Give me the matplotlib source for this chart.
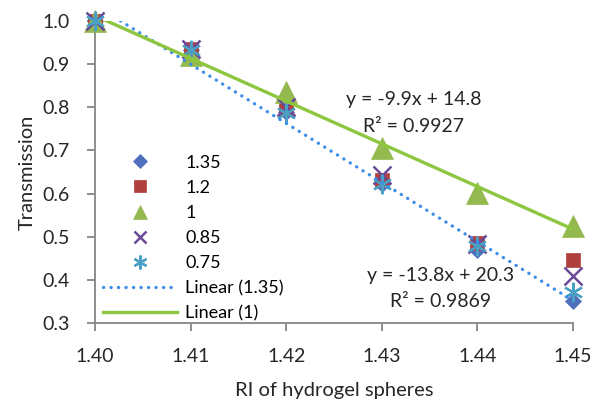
import numpy as np
import matplotlib
matplotlib.use('Agg')
import matplotlib.pyplot as plt
from matplotlib.lines import Line2D

plt.rcParams['font.family'] = ['Lato', 'DejaVu Sans']

# values
ri = [1.40, 1.41, 1.42, 1.43, 1.44, 1.45]
t_135 = [1.0, 0.932, 0.790, 0.622, 0.470, 0.352]
t_12 = [1.0, 0.935, 0.795, 0.632, 0.486, 0.446]
t_1 = [1.0, 0.922, 0.835, 0.705, 0.602, 0.525]
t_085 = [1.0, 0.935, 0.800, 0.643, 0.482, 0.410]
t_075 = [1.0, 0.933, 0.787, 0.622, 0.478, 0.372]

x_ticks = [1.40, 1.41, 1.42, 1.43, 1.44, 1.45]
y_ticks = [0.3, 0.4, 0.5, 0.6, 0.7, 0.8, 0.9, 1.0]

eq_1 = ['y = -9.9x + 14.8', 'R² = 0.9927']
eq_135 = ['y = -13.8x + 20.3', 'R² = 0.9869']

series = [
    ('1.35', t_135, dict(marker='D', color='#4F6FBE', ms=8, lg_ms=7.5)),
    ('1.2', t_12, dict(marker='s', color='#B0403D', ms=10, lg_ms=9)),
    ('1', t_1, dict(marker='^', color='#94B94F', ms=16, lg_ms=10)),
    ('0.85', t_085, dict(marker='x', color='#6A4B9A', ms=13, lg_ms=9, mew=1.8)),
    ('0.75', t_075, dict(marker=(6, 2, 0), color='#4A9FC4', ms=14, lg_ms=10, mew=1.6)),
]
text_col = '#262626'

fig = plt.figure(figsize=(6.02, 4.04), dpi=100)
ax = fig.add_axes([95 / 602, 1 - 323 / 404, 478 / 602, 302 / 404])

handles = []
for name, vals, st in series:
    mew = st.get('mew', 0.5)
    ax.plot(ri, vals, ls='none', marker=st['marker'], ms=st['ms'], color=st['color'],
            mec=st['color'], mew=mew, clip_on=False, zorder=3)
    handles.append(Line2D([], [], ls='none', marker=st['marker'], ms=st['lg_ms'],
                          color=st['color'], mec=st['color'], mew=mew))

# linear trendlines over the data range (clipped by the axes like Excel)
xr = np.array([ri[0], ri[-1]])
p135 = np.polyfit(ri, t_135, 1)
p1 = np.polyfit(ri, t_1, 1)
dots = (0, (0.05, 2.2))
ax.plot(xr, np.polyval(p135, xr), color='#3D8EE8', lw=2.4, ls=dots,
        dash_capstyle='round', zorder=4)
ax.plot(xr, np.polyval(p1, xr), color='#8DC63F', lw=2.4, zorder=4)
handles.append(Line2D([], [], color='#3D8EE8', lw=2.4, ls=dots, dash_capstyle='round'))
handles.append(Line2D([], [], color='#8DC63F', lw=2.4))
labels = [s[0] for s in series] + ['Linear (1.35)', 'Linear (1)']

ax.set_xlim(1.40, 1.45)
ax.set_ylim(0.3, 1.0)
ax.set_xticks(x_ticks)
ax.set_xticklabels([f'{v:.2f}' for v in x_ticks])
ax.set_yticks(y_ticks)
ax.set_yticklabels([f'{v:.1f}' for v in y_ticks])

for side in ['top', 'right']:
    ax.spines[side].set_visible(False)
for side in ['left', 'bottom']:
    ax.spines[side].set_color('#868686')
    ax.spines[side].set_linewidth(1.3)
ax.tick_params(axis='both', direction='out', length=6, width=1.3, color='#868686',
               labelsize=14, labelcolor=text_col, pad=12)

ax.set_xlabel('RI of hydrogel spheres', fontsize=14.5, color=text_col, labelpad=12)
ax.set_ylabel('Transmission', fontsize=14.5, color=text_col, labelpad=5)

ax.text(1.4333, 0.786, '\n'.join(eq_1), ha='center', va='center', fontsize=14,
        color=text_col, linespacing=1.7)
ax.text(1.4361, 0.38, '\n'.join(eq_135), ha='center', va='center', fontsize=14,
        color=text_col, linespacing=1.7)

ax.legend(handles, labels, loc='upper left', bbox_to_anchor=(0.0167, 0.557),
          frameon=False, fontsize=13, handlelength=4.1, handletextpad=0.45,
          labelspacing=0.5, borderpad=0, borderaxespad=0)

fig.savefig('out.png', dpi=100)
